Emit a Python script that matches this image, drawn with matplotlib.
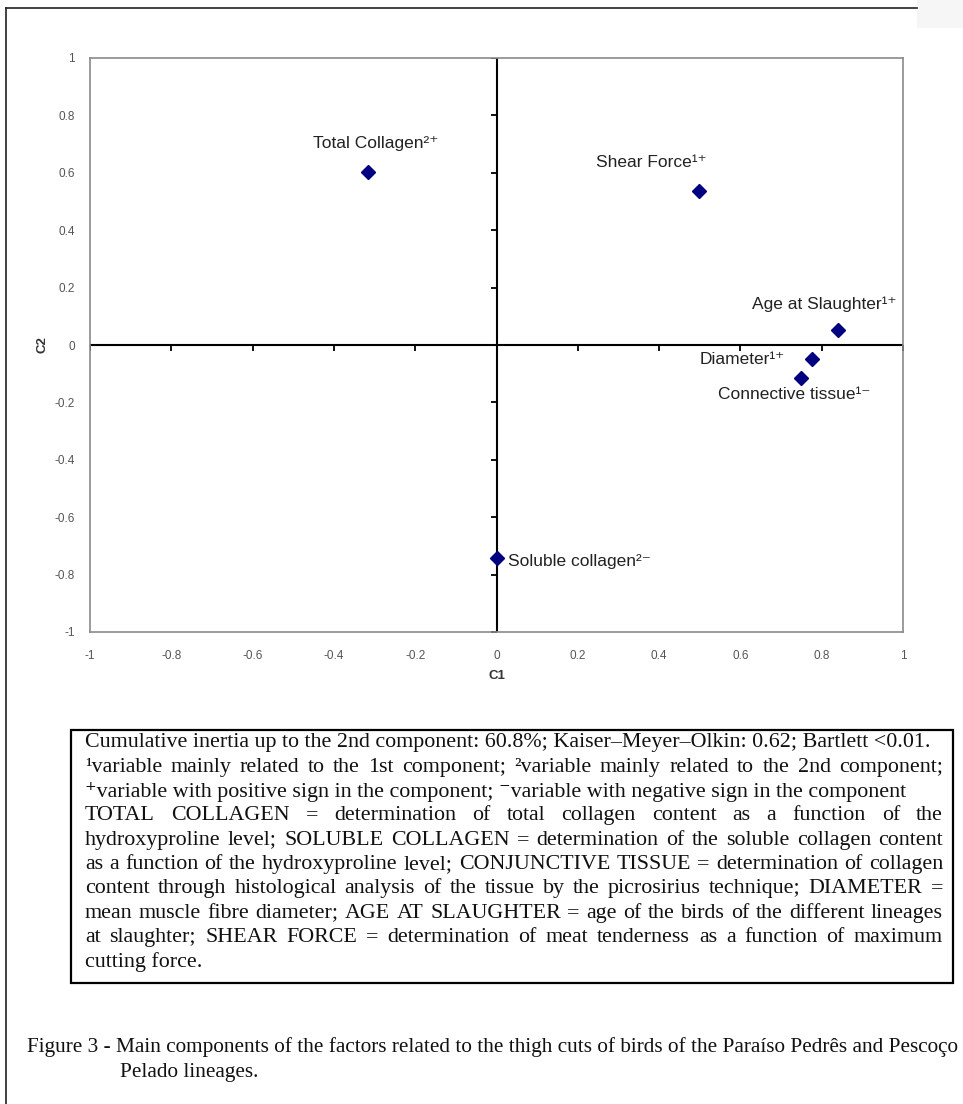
import matplotlib
matplotlib.use("Agg")
import matplotlib.pyplot as plt
from matplotlib.patches import Rectangle
from matplotlib.lines import Line2D

W, H = 963, 1104

# loadings of each variable on the first two components
variables = ["Total Collagen", "Shear Force", "Age at Slaughter",
             "Diameter", "Connective tissue", "Soluble collagen"]
marks = ["²⁺", "¹⁺", "¹⁺", "¹⁺", "¹⁻", "²⁻"]
c1 = [-0.317, 0.498, 0.840, 0.776, 0.749, 0.0]
c2 = [0.603, 0.537, 0.052, -0.049, -0.115, -0.742]
ticks = [-1, -0.8, -0.6, -0.4, -0.2, 0, 0.2, 0.4, 0.6, 0.8, 1]
tick_labels = ["-1", "-0.8", "-0.6", "-0.4", "-0.2", "0", "0.2", "0.4", "0.6", "0.8", "1"]

# label offsets in pixels (dx, dy) from each point to the label's left/centre
label_offsets = [(-55, 28), (-103, 28), (-86, 26), (-112, 0), (-83, -16), (11, -4)]

notes = [
    ("Cumulative inertia up to the 2nd component: 60.8%; Kaiser–Meyer–Olkin: 0.62; Bartlett <0.01.", False),
    ("¹variable mainly related to the 1st component; ²variable mainly related to the 2nd component;", True),
    ("⁺variable with positive sign in the component; ⁻variable with negative sign in the component", False),
    ("TOTAL COLLAGEN = determination of total collagen content as a function of the", True),
    ("hydroxyproline level; SOLUBLE COLLAGEN = determination of the soluble collagen content", True),
    ("as a function of the hydroxyproline level; CONJUNCTIVE TISSUE = determination of collagen", True),
    ("content through histological analysis of the tissue by the picrosirius technique; DIAMETER =", True),
    ("mean muscle fibre diameter; AGE AT SLAUGHTER = age of the birds of the different lineages", True),
    ("at slaughter; SHEAR FORCE = determination of meat tenderness as a function of maximum", True),
    ("cutting force.", False),
]
caption = ["Figure 3 - Main components of the factors related to the thigh cuts of birds of the Paraíso Pedrês and Pescoço",
           "Pelado lineages."]

sans = ["Liberation Sans", "DejaVu Sans"]
serif = ["Liberation Serif", "DejaVu Serif"]

fig = plt.figure(figsize=(W / 100, H / 100), dpi=100)
renderer = fig.canvas.get_renderer()


def fx(x):
    return x / W


def fy(y):
    return 1 - y / H


# outer frame (left and top edges)
fig.add_artist(Line2D([fx(6), fx(6)], [fy(8), 0], color="#222222", lw=1.2))
fig.add_artist(Line2D([fx(6), fx(917)], [fy(8), fy(8)], color="#222222", lw=1.2))
fig.add_artist(Rectangle((fx(917), fy(28)), fx(46), 28 / H, color="#f6f6f6", lw=0))

# scatter of component loadings
ax = fig.add_axes([fx(90), fy(632), fx(903 - 90), (632 - 58) / H])
ax.set_xlim(-1, 1)
ax.set_ylim(-1, 1)
for s in ax.spines.values():
    s.set_color("#8a8a8a")
    s.set_linewidth(1.2)
ax.axhline(0, color="black", lw=1.5, zorder=2)
ax.axvline(0, color="black", lw=1.5, zorder=2)
ax.plot(ticks, [0] * len(ticks), ls="none", marker=3, ms=4, mew=1.3, color="black", zorder=2)
ax.plot([0] * len(ticks), ticks, ls="none", marker=0, ms=4, mew=1.3, color="black", zorder=2)

ax.set_xticks(ticks)
ax.set_xticklabels(tick_labels)
ax.set_yticks(ticks)
ax.set_yticklabels(tick_labels)
ax.tick_params(length=0, labelsize=8.5, labelcolor="#555555", pad=13)
ax.tick_params(axis="y", pad=11)
for t in ax.get_xticklabels() + ax.get_yticklabels():
    t.set_family(sans)

ax.set_xlabel("C1", fontsize=9.5, fontweight="bold", color="#333333", family=sans, labelpad=6)
ax.set_ylabel("C2", fontsize=9.5, fontweight="bold", color="#333333", family=sans, labelpad=4)

ax.plot(c1, c2, ls="none", marker="D", ms=7, color="#000080", zorder=3)
for name, mk, x, y, (dx, dy) in zip(variables, marks, c1, c2, label_offsets):
    ax.annotate(name + mk, (x, y), xytext=(dx, dy), textcoords="offset pixels",
                ha="left", va="center", fontsize=12.5, color="#222222", family=sans)

# legend box under the chart
box_l, box_r, box_t, box_b = 71, 953, 730, 983
fig.add_artist(Rectangle((fx(box_l), fy(box_b)), fx(box_r - box_l), (box_b - box_t) / H,
                         fill=False, edgecolor="black", lw=1.6))

probe = fig.text(0, 0, notes[0][0], fontsize=10, family=serif)
note_size = 10 * 847 / probe.get_window_extent(renderer).width
probe.remove()


def word_width(w, size):
    t = fig.text(0, 0, w, fontsize=size, family=serif)
    wd = t.get_window_extent(renderer).width
    t.remove()
    return wd


x0, x1 = 85, 943
for i, (line, justify) in enumerate(notes):
    y = 743 + i * 24.3
    if not justify:
        fig.text(fx(x0), fy(y), line, fontsize=note_size, family=serif, va="center", color="#111111")
        continue
    words = line.split(" ")
    widths = [word_width(w, note_size) for w in words]
    gap = (x1 - x0 - sum(widths)) / (len(words) - 1)
    x = x0
    for w, wd in zip(words, widths):
        fig.text(fx(x), fy(y), w, fontsize=note_size, family=serif, va="center", color="#111111")
        x += wd + gap

probe = fig.text(0, 0, caption[0], fontsize=10, family=serif)
cap_size = 10 * 931 / probe.get_window_extent(renderer).width
probe.remove()
fig.text(fx(27), fy(1047), caption[0], fontsize=cap_size, family=serif, va="center", color="#111111")
fig.text(fx(120), fy(1072), caption[1], fontsize=cap_size, family=serif, va="center", color="#111111")

fig.savefig("out.png", dpi=100)
